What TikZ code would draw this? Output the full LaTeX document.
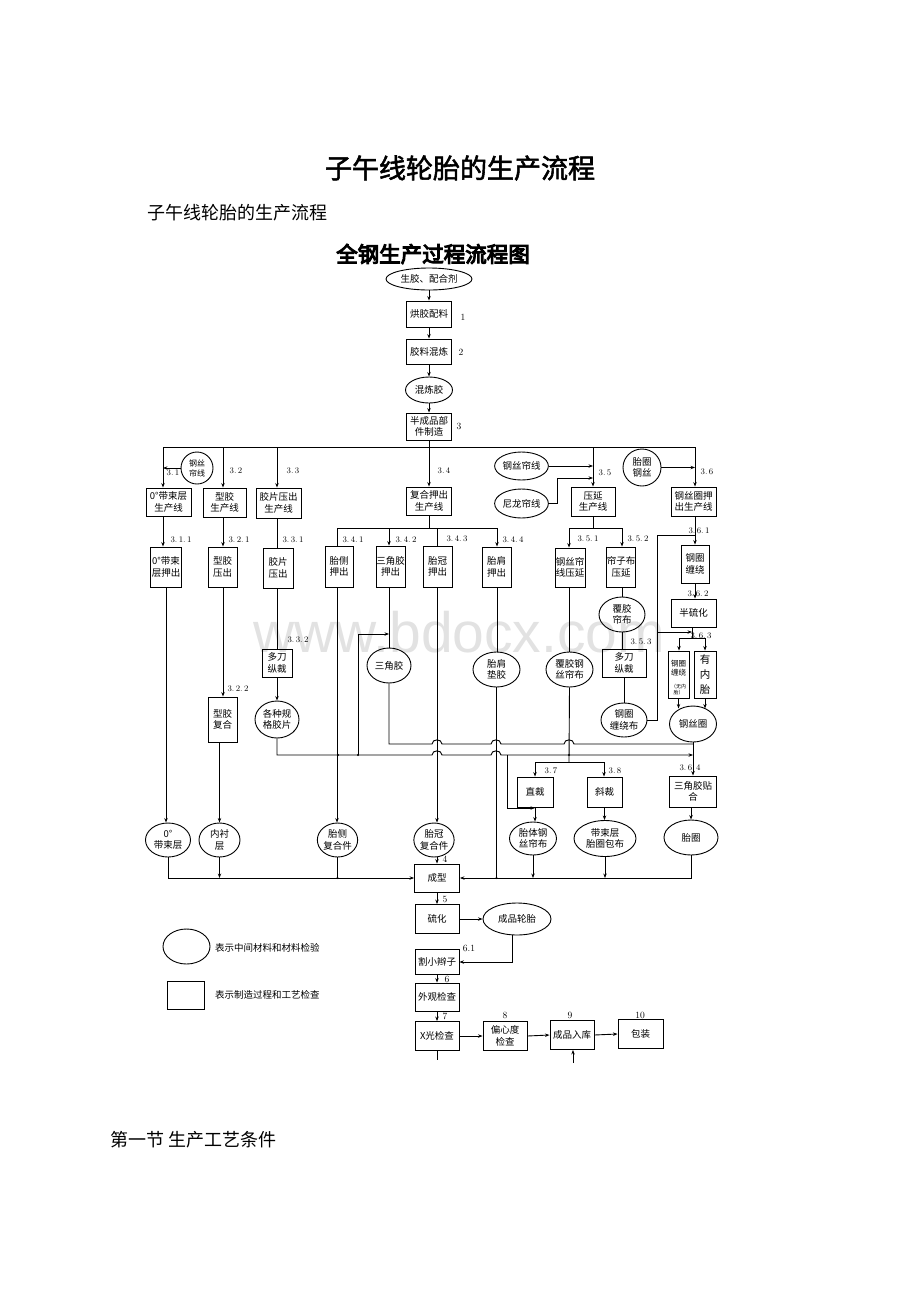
\documentclass[tikz,border=0pt]{standalone}
\usepackage{fontspec}
\usetikzlibrary{shapes.geometric,arrows.meta}
\newfontfamily\cjk{Noto Sans CJK SC}
\newfontfamily\cjkb[FakeBold=2]{Noto Sans CJK SC}
\newfontfamily\cjkbb[FakeBold=5]{Noto Sans CJK SC}
\newfontfamily\wmfont{Liberation Sans}
\definecolor{wm}{RGB}{226,226,226}
\begin{document}
\begin{tikzpicture}[x=1pt,y=-1pt,
  ln/.style={line width=0.9pt},
  ar/.style={line width=0.9pt,-{Stealth[length=4.5pt,width=3.4pt]}},
  bx/.style={draw,line width=0.9pt,rectangle,inner sep=0pt,align=center,font=\cjk\fontsize{9.5}{11.5}\selectfont},
  el/.style={draw,line width=0.9pt,ellipse,inner sep=0pt,align=center,font=\cjk\fontsize{9.5}{11.5}\selectfont},
  lb/.style={inner sep=0pt,font=\fontsize{8.5}{9}\selectfont},
  nb/.style={inner sep=0pt,font=\fontsize{9.5}{10}\selectfont},
  dot/.style={circle,fill,inner sep=0pt,minimum size=2.4pt}
]
\useasboundingbox (0,0) rectangle (920,1302);
% watermark
\node[anchor=base west,inner sep=0pt,text=wm,font=\wmfont\fontsize{57}{60}\selectfont] (wmk) at (253,652) {www.bdocx.com};
% page texts
\node[inner sep=0pt,font=\cjkb\fontsize{27}{30}\selectfont] (ptitle) at (460,168) {子午线轮胎的生产流程};
\node[anchor=west,inner sep=0pt,font=\cjk\fontsize{18}{20}\selectfont] (psub) at (147,213) {子午线轮胎的生产流程};
\node[anchor=west,inner sep=0pt,font=\cjk\fontsize{18}{20}\selectfont] (pfoot) at (110,1140) {第一节 生产工艺条件};
\node[inner sep=0pt,font=\cjkbb\fontsize{21.5}{24}\selectfont] (dtitle) at (433,254) {全钢生产过程流程图};

% top chain
\node[el,minimum width=86,minimum height=22] (e0) at (429,279) {生胶、配合剂};
\node[bx,minimum width=45,minimum height=26] (b1) at (429,314) {烘胶配料};
\node[nb] at (463,317) {1};
\node[bx,minimum width=45,minimum height=25] (b2) at (429,351.5) {胶料混炼};
\node[nb] at (461,352) {2};
\node[el,minimum width=47,minimum height=26] (e1) at (429,390) {混炼胶};
\node[bx,minimum width=45,minimum height=27] (b3) at (429,426.5) {半成品部\\件制造};
\node[nb] at (459,426) {3};
\draw[ar] (e0.south) -- (b1.north);
\draw[ar] (b1.south) -- (b2.north);
\draw[ar] (b2.south) -- (e1.north);
\draw[ar] (e1.south) -- (b3.north);

% top bus
\coordinate (T1) at (163,447);
\coordinate (T2) at (223,447);
\coordinate (T3) at (277,447);
\coordinate (T4) at (429,447);
\coordinate (T5) at (593,447);
\coordinate (T6) at (695,447);
\draw[ln] (T1) -- (T6);
\draw[ln] (b3.south) -- (T4);

\node[bx,minimum width=45,minimum height=28] (b31) at (168.5,502) {0°带束层\\生产线};
\node[bx,minimum width=43,minimum height=29] (b32) at (224.5,502.5) {型胶\\生产线};
\node[bx,minimum width=45,minimum height=30] (b33) at (278.5,503) {胶片压出\\生产线};
\node[bx,minimum width=45,minimum height=28] (b34) at (429,501) {复合押出\\生产线};
\node[bx,minimum width=44,minimum height=29] (b35) at (593,501.5) {压延\\生产线};
\node[bx,minimum width=45,minimum height=29] (b36) at (693.5,501.5) {钢丝圈押\\出生产线};

\draw[ar] (T1) -- (T1 |- b31.north);
\draw[ar] (T2) -- (T2 |- b32.north);
\draw[ar] (T3) -- (T3 |- b33.north);
\draw[ar] (T4) -- (b34.north);
\draw[ar] (T5) -- (b35.north);
\draw[ar] (T6) -- (T6 |- b36.north);

\node[lb] at (173,473) {3.\,1};
\node[el,minimum width=32,minimum height=32,font=\cjk\fontsize{8}{10}\selectfont,fill=white] (c31) at (197,468) {钢丝\\帘线};
\draw[ar] (c31.west) -- (c31.west -| T1);
\node[lb] at (236,471) {3.\,2};
\node[lb] at (293,471) {3.\,3};
\node[lb] at (444,471) {3.\,4};
\node[lb] at (605,473) {3.\,5};
\node[lb] at (707,472) {3.\,6};

\node[el,minimum width=53,minimum height=28] (egs) at (521.5,466) {钢丝帘线};
\node[el,minimum width=53,minimum height=29] (enl) at (521.5,503.5) {尼龙帘线};
\coordinate (J5) at (593,478);
\draw[ar] (egs.east) -- (egs.east -| T5);
\draw[ar] (enl.east) -- ++(9,0) |- (J5);
\node[el,minimum width=38,minimum height=37] (ctq) at (642,467.5) {胎圈\\钢丝};
\draw[ar] (ctq.east) -- (ctq.east -| T6);

% second row
\node[bx,minimum width=31,minimum height=40] (b311) at (166,567) {0°带束\\层押出};
\node[bx,minimum width=29,minimum height=40] (b321) at (222.5,567) {型胶\\压出};
\node[bx,minimum width=30,minimum height=40] (b331) at (278,568) {胶片\\压出};
\draw[ar] (T1 |- b31.south) -- (T1 |- b311.north);
\draw[ar] (T2 |- b32.south) -- (T2 |- b321.north);
\draw[ln] (T3 |- b33.south) -- (T3 |- b331.north);

\coordinate (S4) at (429,528);
\coordinate (S41) at (337,528);
\coordinate (S42) at (389,528);
\coordinate (S43) at (437,528);
\coordinate (S44) at (497,528);
\draw[ln] (b34.south) -- (S4);
\draw[ln] (S41) -- (S44);
\node[bx,minimum width=28,minimum height=41] (b341) at (339,566.5) {胎侧\\押出};
\node[bx,minimum width=29,minimum height=41] (b342) at (390.5,566.5) {三角胶\\押出};
\node[bx,minimum width=29,minimum height=41] (b343) at (437.5,566.5) {胎冠\\押出};
\node[bx,minimum width=29,minimum height=40] (b344) at (496.5,567) {胎肩\\押出};
\draw[ln] (S41) -- (S41 |- b341.north);
\draw[ar] (S42) -- (S42 |- b342.north);
\draw[ln] (S43) -- (S43 |- b343.north);
\draw[ar] (S44) -- (S44 |- b344.north);

\coordinate (S5) at (593,528);
\coordinate (S51) at (569,528);
\coordinate (S52) at (622,528);
\draw[ln] (b35.south) -- (S5);
\draw[ln] (S51) -- (S52);
\node[bx,minimum width=30,minimum height=39] (b351) at (570,567.5) {钢丝帘\\线压延};
\node[bx,minimum width=29,minimum height=40] (b352) at (621,567) {帘子布\\压延};
\draw[ar] (S51) -- (S51 |- b351.north);
\draw[ar] (S52) -- (S52 |- b352.north);

\node[lb] at (181,540) {3.\,1.\,1};
\node[lb] at (239,540) {3.\,2.\,1};
\node[lb] at (293,540) {3.\,3.\,1};
\node[lb] at (353,540) {3.\,4.\,1};
\node[lb] at (406,540) {3.\,4.\,2};
\node[lb] at (457,539) {3.\,4.\,3};
\node[lb] at (513,540) {3.\,4.\,4};
\node[lb] at (588,539) {3.\,5.\,1};
\node[lb] at (638,539) {3.\,5.\,2};

% 3.6 chain
\node[bx,minimum width=28,minimum height=38] (b361) at (695,564) {钢圈\\缠绕};
\draw[ar] (T6 |- b36.south) -- (b361.north);
\node[lb] at (699,531) {3.\,6.\,1};
\node[bx,minimum width=45,minimum height=28] (b362) at (693.5,613) {半硫化};
\draw[ar] (b361.south) -- (b361.south |- b362.north);
\node[lb] at (698,594) {3.\,6.\,2};
\coordinate (S6) at (692,638);
\coordinate (S6a) at (679,638);
\coordinate (S6b) at (705,638);
\draw[ln] (S6 |- b362.south) -- (S6);
\draw[ln] (S6a) -- (S6b);
\node[lb] at (701,636) {3.\,6.\,3};
\node[bx,minimum width=21,minimum height=47] (b363a) at (678.5,674.5) {};
\node[inner sep=0pt,align=center,font=\cjk\fontsize{7.5}{9}\selectfont] (t363a) at (678.5,668) {钢圈\\缠绕};
\node[inner sep=0pt,align=center,font=\cjk\fontsize{5}{6}\selectfont] (s363a) at (678.5,689.5) {（无内\\胎）};
\node[bx,minimum width=22,minimum height=47,font=\cjk\fontsize{10.5}{15}\selectfont] (b363b) at (705,674.5) {有\\内\\胎};
\draw[ar] (S6a) -- (S6a |- b363a.north);
\draw[ar] (S6b) -- (S6b |- b363b.north);
\node[el,minimum width=47,minimum height=36] (egsq) at (693,724) {钢丝圈};
\draw[ar] (b363a.south) -- ++(0,10);
\draw[ar] (b363b.south) -- ++(0,10);

% 3.5.3 chain
\node[el,minimum width=46,minimum height=35] (efj) at (622,614.5) {覆胶\\帘布};
\draw[ln] (S52 |- b352.south) -- (efj.north);
\node[bx,minimum width=44,minimum height=28] (b353) at (624,663) {多刀\\纵裁};
\draw[ln] (efj.south) -- (efj.south |- b353.north);
\node[lb] at (641,642) {3.\,5.\,3};
\node[el,minimum width=46,minimum height=34] (egqcr) at (624,720) {钢圈\\缠绕布};
\draw[ln] (b353.south) -- (egqcr.north);
\coordinate (F1) at (657,720);
\coordinate (F2) at (657,535);
\coordinate (F4) at (657,632);
\coordinate (F5) at (692,632);
\draw[ln] (egqcr.east) -- (F1) -- (F2) -- (F2 -| T6);
\draw[ar] (F4) -- (F5);

% 3.4 / 3.3 / 3.2 lower parts
\node[el,minimum width=44,minimum height=35] (esj) at (389,665.5) {三角胶};
\draw[ln] (S42 |- b342.south) -- (esj.north);
\coordinate (K1) at (358,755);
\coordinate (K2) at (358,634);
\coordinate (K3) at (389,634);
\draw[ar] (K1) -- (K2) -- (K3);

\node[bx,minimum width=30,minimum height=28] (b332) at (277,663) {多刀\\纵裁};
\draw[ln] (T3 |- b331.south) -- (b332.north);
\node[lb] at (298,640) {3.\,3.\,2};
\node[el,minimum width=44,minimum height=37] (eggjp) at (277,719.5) {各种规\\格胶片};
\draw[ar] (b332.south) -- (eggjp.north);

\node[bx,minimum width=29,minimum height=45] (b322) at (222.5,719.5) {型胶\\复合};
\draw[ar] (T2 |- b321.south) -- (T2 |- b322.north);
\node[lb] at (238,689) {3.\,2.\,2};

\node[el,minimum width=47,minimum height=35] (etj) at (496.5,669.5) {胎肩\\垫胶};
\draw[ln] (S44 |- b344.south) -- (S44 |- etj.north);
\node[el,minimum width=47,minimum height=35] (efjgs) at (569.5,669.5) {覆胶钢\\丝帘布};
\draw[ln] (S51 |- b351.south) -- (S51 |- efjgs.north);

% lines A and B with hops
\draw[ln] (esj.south) |- (432,744) .. controls (432,738.5) and (442,738.5) .. (442,744)
  -- (491,744) .. controls (491,738.5) and (501,738.5) .. (501,744)
  -- (564,744) .. controls (564,738.5) and (574,738.5) .. (574,744) -- (693,744);
\draw[ar] (eggjp.south) |- (432,755) .. controls (432,749.5) and (442,749.5) .. (442,755)
  -- (491,755) .. controls (491,749.5) and (501,749.5) .. (501,755) -- (693,755);
\node[dot] at (338,755) {};
\node[dot] at (358,755) {};
\node[dot] at (569,755) {};

% 3.7 / 3.8
\coordinate (S7) at (569,762);
\coordinate (S7a) at (535,762);
\coordinate (S7b) at (604,762);
\draw[ln] (efjgs.south) -- (S7);
\draw[ln] (S7a) -- (S7b);
\node[bx,minimum width=36,minimum height=30] (b37) at (535,792) {直裁};
\node[bx,minimum width=35,minimum height=30] (b38) at (604.5,792) {斜裁};
\draw[ar] (S7a) -- (S7a |- b37.north);
\draw[ar] (S7b) -- (S7b |- b38.north);
\node[lb] at (551,771) {3.\,7};
\node[lb] at (615,771) {3.\,8};
\node[el,minimum width=47,minimum height=33] (ettgs) at (533,838.5) {胎体钢\\丝帘布};
\node[el,minimum width=62,minimum height=36] (edsq) at (605,838.5) {带束层\\胎圈包布};
\draw[ar] (b37.south) -- (b37.south |- ettgs.north);
\draw[ar] (b38.south) -- (b38.south |- edsq.north);
\coordinate (G1) at (507,755);
\coordinate (G2) at (507,808);
\draw[ar] (G1) -- (G2) -- (G2 -| b37.south);

% 3.6.4
\node[bx,minimum width=47,minimum height=31] (b364) at (693,791.5) {三角胶贴\\合};
\draw[ar] (egsq.south) -- (b364.north);
\node[lb] at (690,768) {3.\,6.\,4};
\node[el,minimum width=54,minimum height=35] (etq) at (691,837.5) {胎圈};
\draw[ar] (b364.south -| etq.north) -- (etq.north);

% bottom ellipses
\node[el,minimum width=45,minimum height=34] (e0b) at (168,840) {0°\\带束层};
\node[el,minimum width=41,minimum height=34] (enc) at (219.5,840) {内衬\\层};
\node[el,minimum width=39,minimum height=34] (etc) at (337.5,840) {胎侧\\复合件};
\node[el,minimum width=39,minimum height=34] (etg) at (434,840) {胎冠\\复合件};
\draw[ar] (b311.south) -- (b311.south |- e0b.north);
\draw[ar] (b322.south -| enc.north) -- (enc.north);
\draw[ar] (S41 |- b341.south) -- (S41 |- etc.north);
\draw[ar] (S43 |- b343.south) -- (S43 |- etg.north);

% forming
\node[bx,minimum width=45,minimum height=28] (b4) at (437,878) {成型};
\node[nb] at (445,859) {4};
\draw[ar] (b4.north |- etg.south) -- (b4.north);
\draw[ar] (e0b.south) |- (b4.west);
\draw[ar] (enc.south) -- (enc.south |- b4.west);
\draw[ln] (etc.south) -- (etc.south |- b4.west);
\node[dot] at (etc.south |- b4.west) {};
\draw[ar] (etq.south) |- (b4.east);
\draw[ar] (ettgs.south) -- (ettgs.south |- b4.east);
\draw[ar] (edsq.south) -- (edsq.south |- b4.east);
\draw[ln] (etj.south) -- (etj.south |- b4.east);
\node[dot] at (etj.south |- b4.east) {};

% final chain
\node[bx,minimum width=44,minimum height=29] (b5) at (437,919) {硫化};
\node[nb] at (445,899) {5};
\draw[ar] (b4.south) -- (b5.north);
\node[el,minimum width=68,minimum height=32] (ecp) at (517,919) {成品轮胎};
\draw[ar] (b5.east) -- (ecp.west);
\node[bx,minimum width=44,minimum height=25] (b61) at (437,962) {割小辫子};
\node[nb] at (469,948) {6.1};
\draw[ar] ([xshift=-5pt]ecp.south) |- (b61.east);
\node[bx,minimum width=44,minimum height=28] (b6) at (437,997) {外观检查};
\node[nb] at (447,979) {6};
\draw[ar] (b61.south) -- (b6.north);
\node[bx,minimum width=44,minimum height=29] (b7) at (437,1036) {X光检查};
\node[nb] at (445,1016) {7};
\draw[ar] (b6.south) -- (b7.north);
\draw[ln] (b7.south) -- ++(0,9);
\node[bx,minimum width=44,minimum height=29] (b8) at (505,1036) {偏心度\\检查};
\node[nb] at (505,1015) {8};
\node[bx,minimum width=44,minimum height=29] (b9) at (572,1035) {成品入库};
\node[nb] at (570,1015) {9};
\node[bx,minimum width=45,minimum height=29] (b10) at (640.5,1034) {包装};
\node[nb] at (640,1015) {10};
\draw[ar] (b7.east) -- (b8.west);
\draw[ar] (b8.east) -- (b9.west);
\draw[ar] (b9.east) -- (b10.west);
\coordinate (U9) at (573,1063);
\draw[ar] (U9) -- (U9 |- b9.south);

% legend
\node[el,minimum width=47,minimum height=35] (eleg) at (186.5,946.5) {};
\node[anchor=west,inner sep=0pt,font=\cjk\fontsize{9.5}{11}\selectfont] (tleg1) at (215,948) {表示中间材料和材料检验};
\node[bx,minimum width=37,minimum height=28] (bleg) at (185.5,995) {};
\node[anchor=west,inner sep=0pt,font=\cjk\fontsize{9.5}{11}\selectfont] (tleg2) at (215,995) {表示制造过程和工艺检查};
\end{tikzpicture}
\end{document}
